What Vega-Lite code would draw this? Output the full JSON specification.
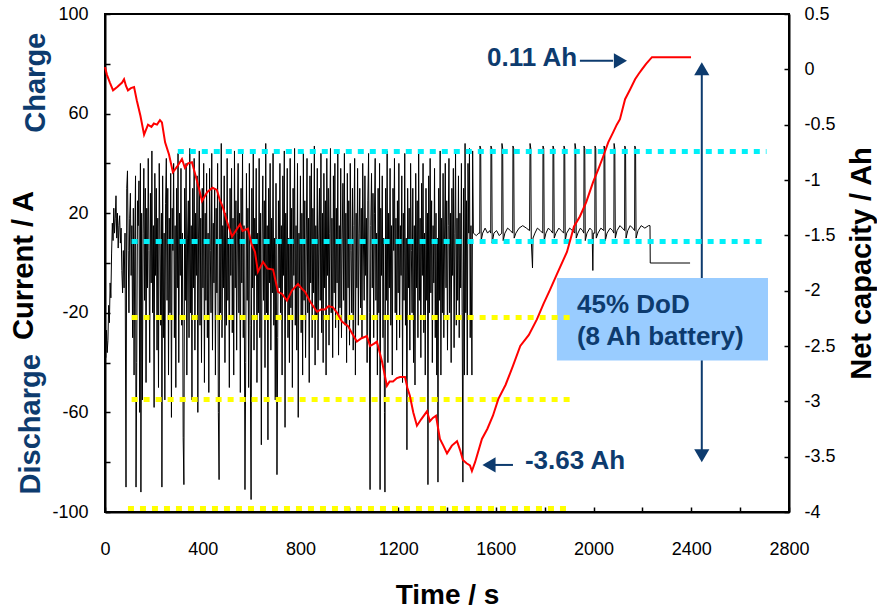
{
"$schema": "https://vega.github.io/schema/vega-lite/v6.json",
"width": 684, "height": 498,
"autosize": {"type": "none"},
"padding": {"left": 105, "top": 14, "right": 88, "bottom": 98},
"background": "white",
"config": {
  "view": {"stroke": "black", "strokeWidth": 2},
  "font": "Liberation Sans",
  "axis": {"labelFont": "Liberation Sans", "labelFontSize": 18, "labelColor": "black", "tickColor": "black", "tickWidth": 1.5, "tickSize": -5, "domainColor": "black", "domainWidth": 2, "grid": false, "labelFlush": false, "labelOverlap": false, "titleFont": "Liberation Sans", "titleFontWeight": "bold", "titleColor": "black"}
},
"datasets": {
  "cur": [
{"t":0,"a":-30},{"t":3,"a":-38},{"t":6,"a":-27},{"t":9,"a":-36},{"t":12,"a":-31},{"t":15,"a":-17},{"t":18,"a":-24},{"t":21,"a":-8},{"t":24,"a":-14},{"t":27,"a":4},{"t":30,"a":16},{"t":33,"a":9},{"t":36,"a":22},{"t":39,"a":12},{"t":42,"a":18},{"t":45,"a":27},{"t":48,"a":10},{"t":51,"a":20},{"t":54,"a":6},{"t":57,"a":15},{"t":60,"a":19},{"t":63,"a":8},{"t":66,"a":14},{"t":69,"a":-3},{"t":72,"a":-12},{"t":75,"a":5},{"t":78,"a":-10},{"t":82,"a":12},{"t":86,"a":-90},{"t":89,"a":30},{"t":92,"a":37},{"t":95,"a":5},{"t":98,"a":-20},{"t":101,"a":18},{"t":104,"a":28},{"t":107,"a":-5},{"t":110,"a":15},{"t":113,"a":-30},{"t":116,"a":22},{"t":119,"a":-45},{"t":122,"a":10},{"t":125,"a":35},{"t":127,"a":-90},{"t":130,"a":-40},{"t":133,"a":25},{"t":136,"a":15},{"t":139,"a":33},{"t":142,"a":-60},{"t":145,"a":40},{"t":147,"a":-92},{"t":150,"a":20},{"t":153,"a":-55},{"t":156,"a":12},{"t":159,"a":38},{"t":162,"a":-15},{"t":165,"a":30},{"t":168,"a":-48},{"t":171,"a":22},{"t":174,"a":-10},{"t":177,"a":42},{"t":180,"a":5},{"t":183,"a":-40},{"t":186,"a":28},{"t":189,"a":-8},{"t":192,"a":45},{"t":195,"a":-20},{"t":198,"a":15},{"t":201,"a":-58},{"t":204,"a":36},{"t":207,"a":-5},{"t":210,"a":30},{"t":213,"a":-35},{"t":216,"a":18},{"t":219,"a":-50},{"t":222,"a":40},{"t":225,"a":10},{"t":228,"a":-25},{"t":231,"a":20},{"t":233,"a":-90},{"t":236,"a":35},{"t":239,"a":-30},{"t":242,"a":12},{"t":245,"a":-55},{"t":248,"a":24},{"t":251,"a":42},{"t":254,"a":-15},{"t":257,"a":30},{"t":260,"a":-45},{"t":263,"a":18},{"t":266,"a":-20},{"t":269,"a":36},{"t":272,"a":-62},{"t":275,"a":22},{"t":278,"a":5},{"t":281,"a":40},{"t":284,"a":-30},{"t":287,"a":15},{"t":290,"a":-50},{"t":293,"a":30},{"t":296,"a":-10},{"t":299,"a":44},{"t":302,"a":-40},{"t":305,"a":20},{"t":308,"a":-5},{"t":311,"a":38},{"t":314,"a":-25},{"t":317,"a":12},{"t":320,"a":-70},{"t":323,"a":-89},{"t":326,"a":30},{"t":329,"a":-15},{"t":332,"a":40},{"t":335,"a":-45},{"t":338,"a":10},{"t":341,"a":25},{"t":344,"a":-30},{"t":347,"a":46},{"t":350,"a":-20},{"t":353,"a":15},{"t":356,"a":-55},{"t":359,"a":30},{"t":362,"a":-10},{"t":365,"a":42},{"t":368,"a":-35},{"t":371,"a":20},{"t":374,"a":-5},{"t":377,"a":35},{"t":380,"a":-60},{"t":383,"a":10},{"t":386,"a":45},{"t":389,"a":-25},{"t":392,"a":18},{"t":395,"a":-40},{"t":398,"a":30},{"t":401,"a":-10},{"t":404,"a":40},{"t":407,"a":-48},{"t":410,"a":20},{"t":413,"a":-15},{"t":416,"a":36},{"t":419,"a":-30},{"t":422,"a":12},{"t":425,"a":-52},{"t":428,"a":38},{"t":431,"a":5},{"t":434,"a":-20},{"t":437,"a":44},{"t":440,"a":-35},{"t":443,"a":16},{"t":446,"a":-8},{"t":449,"a":30},{"t":452,"a":-45},{"t":455,"a":22},{"t":458,"a":-12},{"t":461,"a":40},{"t":464,"a":-60},{"t":467,"a":-87},{"t":470,"a":25},{"t":473,"a":-20},{"t":476,"a":48},{"t":479,"a":-30},{"t":482,"a":15},{"t":485,"a":-10},{"t":488,"a":35},{"t":491,"a":-40},{"t":494,"a":20},{"t":497,"a":-25},{"t":500,"a":42},{"t":503,"a":-15},{"t":506,"a":10},{"t":509,"a":-50},{"t":512,"a":30},{"t":515,"a":-5},{"t":518,"a":38},{"t":521,"a":-28},{"t":524,"a":18},{"t":527,"a":-45},{"t":530,"a":45},{"t":533,"a":-10},{"t":536,"a":25},{"t":539,"a":-35},{"t":542,"a":12},{"t":545,"a":40},{"t":548,"a":-20},{"t":551,"a":20},{"t":554,"a":-52},{"t":557,"a":30},{"t":560,"a":-8},{"t":563,"a":44},{"t":566,"a":-30},{"t":569,"a":15},{"t":573,"a":-91},{"t":576,"a":-40},{"t":579,"a":36},{"t":582,"a":-15},{"t":585,"a":22},{"t":588,"a":-50},{"t":591,"a":40},{"t":594,"a":-25},{"t":598,"a":-95},{"t":601,"a":30},{"t":604,"a":-10},{"t":607,"a":45},{"t":610,"a":-35},{"t":613,"a":18},{"t":616,"a":-5},{"t":619,"a":38},{"t":622,"a":-48},{"t":625,"a":12},{"t":628,"a":-20},{"t":631,"a":42},{"t":634,"a":-30},{"t":637,"a":20},{"t":640,"a":-73},{"t":643,"a":10},{"t":646,"a":35},{"t":649,"a":-15},{"t":652,"a":25},{"t":655,"a":-42},{"t":658,"a":48},{"t":661,"a":-20},{"t":664,"a":15},{"t":667,"a":-71},{"t":670,"a":30},{"t":673,"a":-8},{"t":676,"a":40},{"t":679,"a":-35},{"t":682,"a":18},{"t":685,"a":-12},{"t":688,"a":44},{"t":691,"a":-25},{"t":694,"a":10},{"t":697,"a":-55},{"t":700,"a":32},{"t":704,"a":-85},{"t":707,"a":-30},{"t":710,"a":25},{"t":713,"a":-10},{"t":716,"a":40},{"t":719,"a":-20},{"t":722,"a":15},{"t":725,"a":-45},{"t":728,"a":35},{"t":731,"a":-5},{"t":734,"a":45},{"t":737,"a":-66},{"t":740,"a":20},{"t":743,"a":-15},{"t":746,"a":38},{"t":749,"a":-30},{"t":752,"a":10},{"t":755,"a":-40},{"t":758,"a":42},{"t":761,"a":-18},{"t":764,"a":22},{"t":767,"a":-50},{"t":770,"a":30},{"t":773,"a":-5},{"t":776,"a":46},{"t":779,"a":-25},{"t":782,"a":15},{"t":785,"a":-35},{"t":788,"a":40},{"t":791,"a":-62},{"t":794,"a":12},{"t":797,"a":-10},{"t":800,"a":35},{"t":803,"a":-28},{"t":806,"a":20},{"t":809,"a":-45},{"t":812,"a":44},{"t":815,"a":-15},{"t":818,"a":25},{"t":821,"a":-38},{"t":824,"a":10},{"t":827,"a":42},{"t":830,"a":-20},{"t":833,"a":18},{"t":836,"a":-48},{"t":839,"a":35},{"t":842,"a":-8},{"t":845,"a":40},{"t":848,"a":-30},{"t":851,"a":22},{"t":854,"a":-12},{"t":857,"a":47},{"t":860,"a":-41},{"t":863,"a":15},{"t":866,"a":-22},{"t":869,"a":38},{"t":872,"a":-35},{"t":875,"a":10},{"t":878,"a":30},{"t":881,"a":-15},{"t":884,"a":44},{"t":887,"a":-28},{"t":890,"a":20},{"t":893,"a":-40},{"t":896,"a":36},{"t":899,"a":-10},{"t":902,"a":25},{"t":905,"a":-45},{"t":908,"a":42},{"t":911,"a":-5},{"t":914,"a":30},{"t":917,"a":-33},{"t":920,"a":12},{"t":923,"a":46},{"t":926,"a":-20},{"t":929,"a":18},{"t":932,"a":-38},{"t":935,"a":35},{"t":938,"a":-12},{"t":941,"a":40},{"t":944,"a":-26},{"t":947,"a":22},{"t":950,"a":-8},{"t":953,"a":45},{"t":956,"a":-37},{"t":959,"a":15},{"t":962,"a":-18},{"t":965,"a":38},{"t":968,"a":-30},{"t":971,"a":10},{"t":974,"a":32},{"t":977,"a":-15},{"t":980,"a":44},{"t":983,"a":-25},{"t":986,"a":20},{"t":989,"a":-40},{"t":992,"a":36},{"t":995,"a":-10},{"t":998,"a":25},{"t":1001,"a":-33},{"t":1004,"a":40},{"t":1007,"a":5},{"t":1010,"a":-20},{"t":1013,"a":30},{"t":1016,"a":-35},{"t":1019,"a":15},{"t":1022,"a":42},{"t":1025,"a":-45},{"t":1028,"a":20},{"t":1031,"a":-10},{"t":1034,"a":38},{"t":1037,"a":-25},{"t":1040,"a":12},{"t":1043,"a":30},{"t":1046,"a":-18},{"t":1049,"a":22},{"t":1052,"a":-30},{"t":1055,"a":40},{"t":1058,"a":8},{"t":1061,"a":-15},{"t":1064,"a":35},{"t":1067,"a":-5},{"t":1070,"a":18},{"t":1073,"a":-40},{"t":1076,"a":25},{"t":1079,"a":44},{"t":1082,"a":-20},{"t":1085,"a":-91},{"t":1088,"a":15},{"t":1091,"a":36},{"t":1094,"a":-10},{"t":1097,"a":28},{"t":1100,"a":-30},{"t":1103,"a":20},{"t":1106,"a":42},{"t":1109,"a":-15},{"t":1112,"a":12},{"t":1115,"a":-45},{"t":1118,"a":30},{"t":1121,"a":-20},{"t":1124,"a":40},{"t":1126,"a":-91},{"t":1129,"a":22},{"t":1132,"a":-5},{"t":1135,"a":35},{"t":1138,"a":-30},{"t":1141,"a":10},{"t":1144,"a":-60},{"t":1146,"a":-92},{"t":1149,"a":30},{"t":1152,"a":-15},{"t":1155,"a":45},{"t":1158,"a":-40},{"t":1161,"a":20},{"t":1164,"a":-10},{"t":1167,"a":38},{"t":1170,"a":-25},{"t":1173,"a":15},{"t":1176,"a":-45},{"t":1179,"a":30},{"t":1182,"a":5},{"t":1185,"a":42},{"t":1188,"a":-20},{"t":1191,"a":18},{"t":1194,"a":-35},{"t":1197,"a":25},{"t":1200,"a":-12},{"t":1203,"a":40},{"t":1206,"a":-30},{"t":1209,"a":15},{"t":1212,"a":-5},{"t":1215,"a":35},{"t":1218,"a":-48},{"t":1221,"a":20},{"t":1224,"a":-15},{"t":1227,"a":44},{"t":1230,"a":-25},{"t":1233,"a":10},{"t":1236,"a":-75},{"t":1239,"a":30},{"t":1242,"a":-10},{"t":1245,"a":22},{"t":1248,"a":-35},{"t":1251,"a":40},{"t":1254,"a":5},{"t":1257,"a":-20},{"t":1260,"a":30},{"t":1263,"a":-40},{"t":1266,"a":15},{"t":1269,"a":-49},{"t":1272,"a":36},{"t":1275,"a":-10},{"t":1278,"a":25},{"t":1281,"a":-30},{"t":1284,"a":44},{"t":1287,"a":-15},{"t":1290,"a":18},{"t":1293,"a":-38},{"t":1296,"a":32},{"t":1299,"a":-5},{"t":1302,"a":40},{"t":1305,"a":-28},{"t":1308,"a":12},{"t":1311,"a":-45},{"t":1314,"a":30},{"t":1317,"a":-15},{"t":1320,"a":20},{"t":1322,"a":-89},{"t":1325,"a":35},{"t":1328,"a":-20},{"t":1331,"a":42},{"t":1334,"a":-12},{"t":1337,"a":25},{"t":1340,"a":-40},{"t":1343,"a":15},{"t":1346,"a":-8},{"t":1349,"a":38},{"t":1352,"a":-30},{"t":1355,"a":20},{"t":1358,"a":-45},{"t":1361,"a":10},{"t":1363,"a":-88},{"t":1366,"a":30},{"t":1369,"a":-15},{"t":1372,"a":45},{"t":1375,"a":-45},{"t":1378,"a":18},{"t":1381,"a":-20},{"t":1384,"a":36},{"t":1387,"a":-30},{"t":1390,"a":10},{"t":1393,"a":40},{"t":1396,"a":-10},{"t":1399,"a":25},{"t":1402,"a":-35},{"t":1405,"a":15},{"t":1408,"a":42},{"t":1411,"a":-20},{"t":1414,"a":20},{"t":1417,"a":-40},{"t":1420,"a":30},{"t":1423,"a":-5},{"t":1426,"a":38},{"t":1429,"a":-34},{"t":1432,"a":12},{"t":1435,"a":44},{"t":1438,"a":-25},{"t":1441,"a":18},{"t":1444,"a":-15},{"t":1447,"a":35},{"t":1450,"a":-30},{"t":1453,"a":20},{"t":1456,"a":-10},{"t":1459,"a":40},{"t":1462,"a":-20},{"t":1465,"a":-88},{"t":1468,"a":30},{"t":1471,"a":-45},{"t":1474,"a":48},{"t":1477,"a":-20},{"t":1480,"a":25},{"t":1483,"a":-45},{"t":1486,"a":40},{"t":1489,"a":12},{"t":1492,"a":46},{"t":1495,"a":-30},{"t":1498,"a":15},{"t":1502,"a":-45},{"t":1505,"a":45},{"t":1508,"a":12},
{"t":1520,"a":11},{"t":1530,"a":12},{"t":1534,"a":12},{"t":1535,"a":47},{"t":1538,"a":46},{"t":1540,"a":9},{"t":1546,"a":12},{"t":1556,"a":14},{"t":1566,"a":12},{"t":1575,"a":13},{"t":1579,"a":12},{"t":1580,"a":47},{"t":1583,"a":46},{"t":1585,"a":8},{"t":1592,"a":12},{"t":1603,"a":13},{"t":1614,"a":11},{"t":1624,"a":12},{"t":1625,"a":48},{"t":1628,"a":46},{"t":1630,"a":9},{"t":1637,"a":12},{"t":1648,"a":14},{"t":1660,"a":13},{"t":1669,"a":12},{"t":1670,"a":47},{"t":1673,"a":46},{"t":1675,"a":10},{"t":1682,"a":12},{"t":1695,"a":14},{"t":1710,"a":15},{"t":1725,"a":14},{"t":1738,"a":13},{"t":1740,"a":48},{"t":1743,"a":46},{"t":1745,"a":9},{"t":1750,"a":-2},{"t":1752,"a":10},{"t":1760,"a":12},{"t":1770,"a":14},{"t":1782,"a":13},{"t":1792,"a":12},{"t":1793,"a":47},{"t":1796,"a":46},{"t":1798,"a":9},{"t":1805,"a":12},{"t":1815,"a":14},{"t":1825,"a":13},{"t":1833,"a":12},{"t":1834,"a":47},{"t":1837,"a":46},{"t":1839,"a":10},{"t":1846,"a":12},{"t":1858,"a":14},{"t":1868,"a":13},{"t":1878,"a":12},{"t":1879,"a":47},{"t":1882,"a":46},{"t":1884,"a":9},{"t":1890,"a":12},{"t":1902,"a":14},{"t":1914,"a":13},{"t":1923,"a":12},{"t":1924,"a":48},{"t":1927,"a":46},{"t":1929,"a":10},{"t":1936,"a":12},{"t":1946,"a":14},{"t":1955,"a":13},{"t":1960,"a":12},{"t":1961,"a":47},{"t":1964,"a":46},{"t":1966,"a":9},{"t":1973,"a":12},{"t":1985,"a":14},{"t":1994,"a":13},{"t":1997,"a":-3},{"t":1999,"a":12},{"t":2005,"a":12},{"t":2006,"a":47},{"t":2009,"a":46},{"t":2011,"a":10},{"t":2018,"a":12},{"t":2030,"a":14},{"t":2042,"a":13},{"t":2043,"a":47},{"t":2046,"a":46},{"t":2048,"a":9},{"t":2055,"a":12},{"t":2068,"a":14},{"t":2078,"a":13},{"t":2083,"a":12},{"t":2084,"a":48},{"t":2087,"a":46},{"t":2089,"a":10},{"t":2096,"a":13},{"t":2108,"a":15},{"t":2118,"a":14},{"t":2127,"a":13},{"t":2128,"a":47},{"t":2131,"a":46},{"t":2133,"a":10},{"t":2140,"a":13},{"t":2150,"a":15},{"t":2160,"a":14},{"t":2168,"a":13},{"t":2169,"a":47},{"t":2172,"a":46},{"t":2174,"a":10},{"t":2182,"a":13},{"t":2195,"a":15},{"t":2210,"a":14},{"t":2225,"a":15},{"t":2231,"a":15},{"t":2232,"a":0},{"t":2395,"a":0}
  ],
  "ah": [
{"t":0,"ah":0.02},{"t":8,"ah":-0.05},{"t":20,"ah":-0.12},{"t":33,"ah":-0.19},{"t":50,"ah":-0.16},{"t":70,"ah":-0.12},{"t":78,"ah":-0.09},{"t":86,"ah":-0.15},{"t":94,"ah":-0.19},{"t":106,"ah":-0.17},{"t":119,"ah":-0.16},{"t":130,"ah":-0.28},{"t":145,"ah":-0.42},{"t":160,"ah":-0.59},{"t":176,"ah":-0.5},{"t":190,"ah":-0.52},{"t":200,"ah":-0.49},{"t":213,"ah":-0.5},{"t":225,"ah":-0.46},{"t":233,"ah":-0.48},{"t":246,"ah":-0.66},{"t":262,"ah":-0.77},{"t":278,"ah":-0.93},{"t":295,"ah":-0.88},{"t":315,"ah":-0.81},{"t":327,"ah":-0.89},{"t":340,"ah":-0.85},{"t":356,"ah":-0.84},{"t":372,"ah":-0.97},{"t":385,"ah":-1.08},{"t":397,"ah":-1.19},{"t":418,"ah":-1.11},{"t":440,"ah":-1.07},{"t":458,"ah":-1.09},{"t":470,"ah":-1.18},{"t":483,"ah":-1.25},{"t":500,"ah":-1.38},{"t":520,"ah":-1.51},{"t":535,"ah":-1.46},{"t":553,"ah":-1.4},{"t":563,"ah":-1.46},{"t":573,"ah":-1.45},{"t":585,"ah":-1.44},{"t":600,"ah":-1.58},{"t":614,"ah":-1.65},{"t":626,"ah":-1.83},{"t":647,"ah":-1.74},{"t":665,"ah":-1.8},{"t":688,"ah":-1.81},{"t":708,"ah":-2.01},{"t":725,"ah":-2.03},{"t":745,"ah":-2.09},{"t":765,"ah":-2.0},{"t":790,"ah":-1.94},{"t":805,"ah":-1.98},{"t":819,"ah":-2.01},{"t":840,"ah":-2.1},{"t":868,"ah":-2.19},{"t":885,"ah":-2.17},{"t":900,"ah":-2.17},{"t":915,"ah":-2.14},{"t":933,"ah":-2.15},{"t":950,"ah":-2.2},{"t":970,"ah":-2.28},{"t":995,"ah":-2.32},{"t":1010,"ah":-2.38},{"t":1031,"ah":-2.46},{"t":1050,"ah":-2.43},{"t":1072,"ah":-2.41},{"t":1085,"ah":-2.5},{"t":1100,"ah":-2.48},{"t":1113,"ah":-2.46},{"t":1134,"ah":-2.64},{"t":1154,"ah":-2.86},{"t":1165,"ah":-2.82},{"t":1179,"ah":-2.82},{"t":1195,"ah":-2.79},{"t":1208,"ah":-2.78},{"t":1228,"ah":-2.78},{"t":1238,"ah":-2.88},{"t":1248,"ah":-2.95},{"t":1262,"ah":-3.1},{"t":1277,"ah":-3.22},{"t":1295,"ah":-3.16},{"t":1318,"ah":-3.09},{"t":1330,"ah":-3.18},{"t":1342,"ah":-3.15},{"t":1355,"ah":-3.13},{"t":1371,"ah":-3.34},{"t":1385,"ah":-3.4},{"t":1400,"ah":-3.47},{"t":1420,"ah":-3.4},{"t":1441,"ah":-3.36},{"t":1455,"ah":-3.45},{"t":1465,"ah":-3.53},{"t":1480,"ah":-3.56},{"t":1494,"ah":-3.58},{"t":1502,"ah":-3.63},{"t":1515,"ah":-3.55},{"t":1543,"ah":-3.34},{"t":1565,"ah":-3.25},{"t":1588,"ah":-3.13},{"t":1610,"ah":-2.98},{"t":1640,"ah":-2.85},{"t":1670,"ah":-2.68},{"t":1700,"ah":-2.5},{"t":1735,"ah":-2.4},{"t":1768,"ah":-2.26},{"t":1795,"ah":-2.12},{"t":1822,"ah":-1.99},{"t":1850,"ah":-1.85},{"t":1891,"ah":-1.65},{"t":1920,"ah":-1.42},{"t":1944,"ah":-1.33},{"t":1970,"ah":-1.2},{"t":1998,"ah":-1.02},{"t":2020,"ah":-0.9},{"t":2039,"ah":-0.79},{"t":2060,"ah":-0.66},{"t":2080,"ah":-0.57},{"t":2095,"ah":-0.5},{"t":2108,"ah":-0.45},{"t":2129,"ah":-0.27},{"t":2150,"ah":-0.18},{"t":2170,"ah":-0.09},{"t":2185,"ah":-0.04},{"t":2198,"ah":0.0},{"t":2215,"ah":0.05},{"t":2239,"ah":0.11},{"t":2399,"ah":0.11}
  ],
  "refs": [
{"t":298,"t2":2708,"a":44.8,"c":"cyan"},
{"t":109,"t2":2688,"a":8.6,"c":"cyan"},
{"t":109,"t2":1906,"a":-21.9,"c":"yellow"},
{"t":109,"t2":1906,"a":-54.8,"c":"yellow"},
{"t":94,"t2":1891,"a":-98.6,"c":"yellow"}
  ],
  "box": [{"t":1850,"t2":2714,"a":-6,"a2":-39.2}],
  "arrowlines": [
{"t":2443,"t2":2443,"a":78,"a2":-77.4},
{"t":1944,"t2":2080,"a":81.2,"a2":81.2},
{"t":1596,"t2":1670,"a":-81.1,"a2":-81.1}
  ],
  "heads": [
{"t":2443,"a":78,"d":"up"},
{"t":2443,"a":-77.4,"d":"down"},
{"t":2110,"a":81.2,"d":"right"},
{"t":1572,"a":-81.1,"d":"left"}
  ],
  "notes": [
{"t":1564,"a":82.4,"label":"0.11 Ah"},
{"t":1719,"a":-79.6,"label":"-3.63 Ah"},
{"t":1932,"a":-16.8,"label":"45% DoD"},
{"t":1932,"a":-29.6,"label":"(8 Ah battery)"}
  ],
  "sides": [
{"t":-246,"a":72.4,"label":"Charge"},
{"t":-266,"a":-64.8,"label":"Discharge"}
  ]
},
"encoding": {
  "x": {"field": "t", "type": "quantitative", "scale": {"domain": [0, 2800], "nice": false},
    "axis": {"values": [0,200,400,600,800,1000,1200,1400,1600,1800,2000,2200,2400,2600,2800], "labelExpr": "datum.value % 400 == 0 ? '' + datum.value : ''", "labelPadding": 33, "title": "Time / s", "titleFontSize": 28, "titleX": 342, "titleY": 91, "titleBaseline": "alphabetic", "titleAlign": "center"}}
},
"layer": [
  {
    "encoding": {
      "y": {"field": "a", "type": "quantitative", "scale": {"domain": [-100, 100], "nice": false},
        "axis": {"values": [-100,-80,-60,-40,-20,0,20,40,60,80,100], "labelExpr": "(datum.value + 100) % 40 == 0 ? '' + datum.value : ''", "labelPadding": 22, "title": "Current / A", "titleFontSize": 29, "titleAngle": 270, "titleX": -73, "titleY": 251, "titleBaseline": "alphabetic", "titleAlign": "center"}}
    },
    "layer": [
      {"data": {"name": "arrowlines"}, "mark": {"type": "rule", "color": "#0d3b6e", "strokeWidth": 2}, "encoding": {"x2": {"field": "t2"}, "y2": {"field": "a2"}}},
      {"data": {"name": "box"}, "mark": {"type": "rect", "color": "#99CCFF", "opacity": 1}, "encoding": {"x2": {"field": "t2"}, "y2": {"field": "a2"}}},
      {"data": {"name": "cur"}, "mark": {"type": "line", "color": "black", "strokeWidth": 1}},
      {"data": {"name": "refs"}, "mark": {"type": "rule", "strokeWidth": 5, "strokeDash": [6, 6]}, "encoding": {"x2": {"field": "t2"}, "color": {"field": "c", "type": "nominal", "scale": {"domain": ["cyan", "yellow"], "range": ["#00F0F8", "#FFFF00"]}, "legend": null}}},
      {"data": {"name": "heads"}, "mark": {"type": "point", "filled": true, "color": "#0d3b6e", "size": 230, "opacity": 1}, "encoding": {"shape": {"field": "d", "type": "nominal", "scale": {"domain": ["up", "down", "left", "right"], "range": ["triangle-up", "triangle-down", "triangle-left", "triangle-right"]}, "legend": null}}},
      {"data": {"name": "notes"}, "mark": {"type": "text", "align": "left", "baseline": "middle", "font": "Liberation Sans", "fontSize": 26, "fontWeight": "bold", "color": "#0d3b6e"}, "encoding": {"text": {"field": "label"}}},
      {"data": {"name": "sides"}, "mark": {"type": "text", "align": "center", "baseline": "alphabetic", "angle": 270, "font": "Liberation Sans", "fontSize": 29, "fontWeight": "bold", "color": "#0d3b6e"}, "encoding": {"text": {"field": "label"}}}
    ]
  },
  {
    "data": {"name": "ah"},
    "mark": {"type": "line", "color": "#FF0000", "strokeWidth": 2},
    "encoding": {
      "y": {"field": "ah", "type": "quantitative", "scale": {"domain": [-4, 0.5], "nice": false},
        "axis": {"orient": "right", "values": [-4,-3.5,-3,-2.5,-2,-1.5,-1,-0.5,0,0.5], "labelExpr": "'' + datum.value", "labelPadding": 20, "title": "Net capacity / Ah", "titleFontSize": 29, "titleAngle": 270, "titleX": 81, "titleY": 249, "titleBaseline": "alphabetic", "titleAlign": "center"}}
    }
  }
],
"resolve": {"scale": {"y": "independent"}}
}
